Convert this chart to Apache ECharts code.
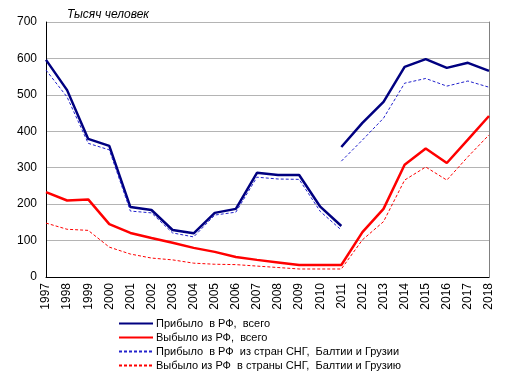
<!DOCTYPE html>
<html>
<head>
<meta charset="utf-8">
<script src="https://cdn.jsdelivr.net/npm/echarts@6/dist/echarts.min.js"></script>
<style>
  html, body { margin: 0; padding: 0; background: #fff; }
  #chart { width: 512px; height: 376px; }
</style>
</head>
<body>
<div id="chart"></div>
<script>
const years = ['1997','1998','1999','2000','2001','2002','2003','2004','2005','2006','2007',
  '2008','2009','2010','2011','2012','2013','2014','2015','2016','2017','2018']

// прибыло, всего (старая методика до 2011, новая с 2011)
const arrivedOld = [596, 513, 379, 360, 192, 184, 129, 120, 176, 187, 286, 280, 280, 193, 140,
  null, null, null, null, null, null, null]
const arrivedNew = [null, null, null, null, null, null, null, null, null, null, null, null, null, null,
  357, 423, 481, 577, 598, 574, 588, 566]
// выбыло, всего
const departed = [233, 210, 213, 145, 121, 107, 94, 80, 69, 55, 47, 40, 33, 33, 33,
  123, 187, 308, 353, 313, 377, 442]
// СНГ, Балтия и Грузия
const arrivedCisOld = [568, 494, 367, 349, 181, 176, 121, 110, 170, 178, 274, 269, 268, 180, 129,
  null, null, null, null, null, null, null]
const arrivedCisNew = [null, null, null, null, null, null, null, null, null, null, null, null, null, null,
  318, 376, 436, 532, 545, 524, 538, 521]
const departedCis = [148, 131, 128, 82, 63, 52, 47, 38, 35, 34, 30, 26, 22, 22, 22,
  102, 152, 266, 302, 266, 330, 390]

const yTicks = [0, 700, 100]

const names = [
  'Прибыло  в РФ,  всего',
  'Выбыло из РФ,  всего',
  'Прибыло  в РФ  из стран СНГ,  Балтии и Грузии',
  'Выбыло из РФ  в страны СНГ,  Балтии и Грузию'
]

const font = 'Arial, "Liberation Sans", sans-serif'
const navy = '#000080'
const blue = '#2222cc'
const red = '#ff0000'

const line = (name, data, color, width, dashed) => ({
  name,
  type: 'line',
  data,
  symbol: 'none',
  smooth: false,
  animation: false,
  lineStyle: { color, width, type: dashed ? [3, 2] : 'solid' },
  itemStyle: { color }
})

const chart = echarts.init(document.getElementById('chart'))
chart.setOption({
  animation: false,
  textStyle: { fontFamily: font },
  title: {
    text: 'Тысяч человек',
    left: 62,
    top: 4,
    textStyle: { fontFamily: font, fontSize: 12, fontStyle: 'italic', fontWeight: 'normal', color: '#000' }
  },
  legend: {
    data: names,
    orient: 'vertical',
    left: 118,
    top: 318,
    height: 58,
    padding: 0,
    itemWidth: 34,
    itemHeight: 10,
    itemGap: 3,
    itemStyle: { opacity: 0 },
    textStyle: { fontFamily: font, fontSize: 11, color: '#000', padding: [0, 0, 0, -2] }
  },
  grid: { left: 46, right: 23, top: 22, bottom: 99 },
  xAxis: {
    type: 'category',
    data: years,
    boundaryGap: false,
    axisLine: { lineStyle: { color: '#000', width: 1 } },
    axisTick: { show: false },
    axisLabel: { rotate: 90, color: '#000', fontSize: 12, fontFamily: font, margin: 6, interval: 0 }
  },
  yAxis: [
    {
      type: 'value',
      min: yTicks[0],
      max: yTicks[1],
      interval: yTicks[2],
      axisLine: { show: true, lineStyle: { color: '#000', width: 1 } },
      axisTick: { show: false },
      axisLabel: { color: '#000', fontSize: 12, fontFamily: font, margin: 9 },
      splitLine: { lineStyle: { color: '#b4b4b4', width: 1 } }
    },
    {
      type: 'value',
      position: 'right',
      min: yTicks[0],
      max: yTicks[1],
      interval: yTicks[2],
      axisLine: { show: true, lineStyle: { color: '#808080', width: 1 } },
      axisTick: { show: false },
      axisLabel: { show: false },
      splitLine: { show: false }
    }
  ],
  series: [
    line(names[0], arrivedOld, navy, 2.5, false),
    line(names[0], arrivedNew, navy, 2.5, false),
    line(names[1], departed, red, 2.5, false),
    line(names[2], arrivedCisOld, blue, 1, true),
    line(names[2], arrivedCisNew, blue, 1, true),
    line(names[3], departedCis, red, 1, true)
  ]
})
</script>
</body>
</html>
